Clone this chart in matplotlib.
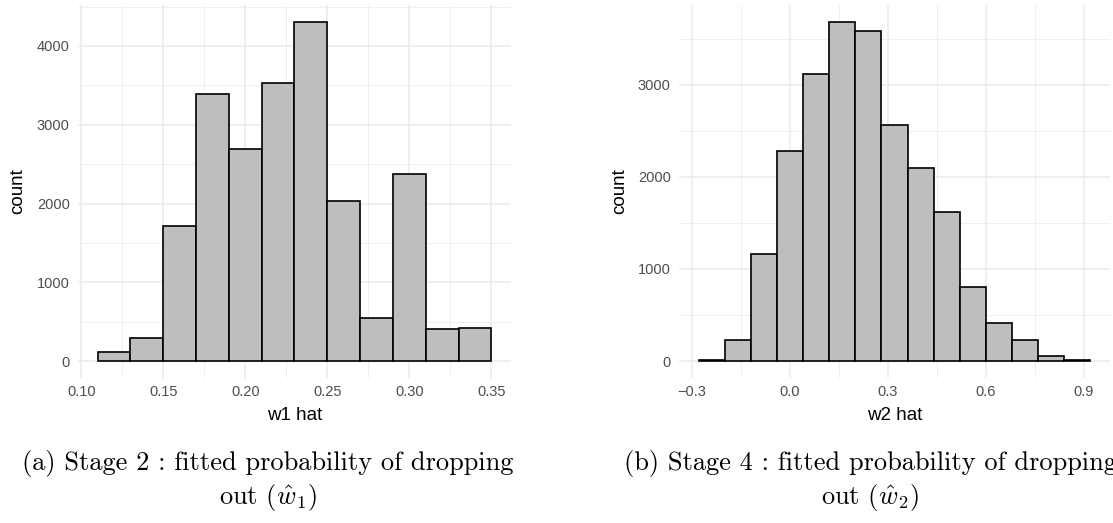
import numpy as np
import matplotlib
matplotlib.use("Agg")
from matplotlib import pyplot as plt

# stage 2 : w1 hat histogram (binwidth 0.02)
w1_edges = [0.11, 0.13, 0.15, 0.17, 0.19, 0.21, 0.23, 0.25, 0.27, 0.29, 0.31, 0.33, 0.35]
w1_counts = [112, 298, 1720, 3390, 2690, 3530, 4305, 2038, 551, 2369, 403, 420]
w1_ticks = [0.10, 0.15, 0.20, 0.25, 0.30, 0.35]
w1_ticklabels = ["0.10", "0.15", "0.20", "0.25", "0.30", "0.35"]
w1_minor = [0.125, 0.175, 0.225, 0.275, 0.325]
w1_yticks = [0, 1000, 2000, 3000, 4000]
w1_yminor = [500, 1500, 2500, 3500, 4500]

# stage 4 : w2 hat histogram (binwidth 0.08)
w2_edges = [-0.28, -0.20, -0.12, -0.04, 0.04, 0.12, 0.20, 0.28, 0.36, 0.44,
            0.52, 0.60, 0.68, 0.76, 0.84, 0.92]
w2_counts = [6, 232, 1161, 2278, 3120, 3682, 3580, 2561, 2097, 1621,
             802, 410, 229, 51, 6]
w2_ticks = [-0.3, 0.0, 0.3, 0.6, 0.9]
w2_ticklabels = ["\u22120.3", "0.0", "0.3", "0.6", "0.9"]
w2_minor = [-0.15, 0.15, 0.45, 0.75]
w2_yticks = [0, 1000, 2000, 3000]
w2_yminor = [500, 1500, 2500, 3500]

captions = [("(a) Stage 2 : fitted probability of dropping", r"out ($\hat{w}_1$)"),
            ("(b) Stage 4 : fitted probability of dropping", r"out ($\hat{w}_2$)")]

plt.rcParams['font.family'] = ['Liberation Sans', 'DejaVu Sans']
plt.rcParams['mathtext.fontset'] = 'cm'

W, H = 1113, 523
fig = plt.figure(figsize=(W / 100, H / 100), dpi=100)

# left px, width px, y-title x px
panels = [
    (78, 433, 18, w1_edges, w1_counts, w1_ticks, w1_ticklabels, w1_minor, w1_yticks, w1_yminor, "w1 hat"),
    (679, 431, 620, w2_edges, w2_counts, w2_ticks, w2_ticklabels, w2_minor, w2_yticks, w2_yminor, "w2 hat"),
]
top_px, bot_px = 5, 378

for left, width, ylab_x, edges, counts, ticks, labels, minor, yticks, yminor, xlab in panels:
    ax = fig.add_axes([left / W, 1 - bot_px / H, width / W, (bot_px - top_px) / H])
    edges = np.array(edges)
    counts = np.array(counts)
    ax.bar(edges[:-1], counts, width=np.diff(edges), align='edge',
           color='#BEBEBE', edgecolor='black', linewidth=1.2, zorder=3)

    # ggplot style 5% expansion
    xr = edges[-1] - edges[0]
    ax.set_xlim(edges[0] - 0.05 * xr, edges[-1] + 0.05 * xr)
    yr = counts.max()
    ax.set_ylim(-0.05 * yr, yr * 1.05)

    ax.set_xticks(ticks)
    ax.set_xticklabels(labels)
    ax.set_xticks(minor, minor=True)
    ax.set_yticks(yticks)
    ax.set_yticks(yminor, minor=True)
    ax.grid(which='major', color='#EBEBEB', linewidth=1.1, zorder=0)
    ax.grid(which='minor', color='#EBEBEB', linewidth=0.55, zorder=0)
    ax.set_axisbelow(True)
    for s in ax.spines.values():
        s.set_visible(False)
    ax.tick_params(which='both', length=0, labelsize=10.5, labelcolor='#4D4D4D')
    ax.tick_params(axis='y', pad=6)
    ax.tick_params(axis='x', pad=5)

    ax.set_xlabel(xlab, fontsize=13.5, color='black')
    ax.set_ylabel("count", fontsize=13.5, color='black')
    ax.xaxis.label.set_va('center')
    ax.yaxis.label.set_va('center')
    ax.xaxis.set_label_coords(0.5, (bot_px - 415) / (bot_px - top_px))
    ax.yaxis.set_label_coords((ylab_x - left) / width, 0.5)

# subfigure captions
for cx, (l1, l2) in zip([268, 870], captions):
    fig.text(cx / W, 1 - 470 / H, l1, family='cmr10', fontsize=19,
             ha='center', va='baseline')
    fig.text(cx / W, 1 - 504 / H, l2, family='cmr10', fontsize=19,
             ha='center', va='baseline')

fig.savefig("out.png", dpi=100)
